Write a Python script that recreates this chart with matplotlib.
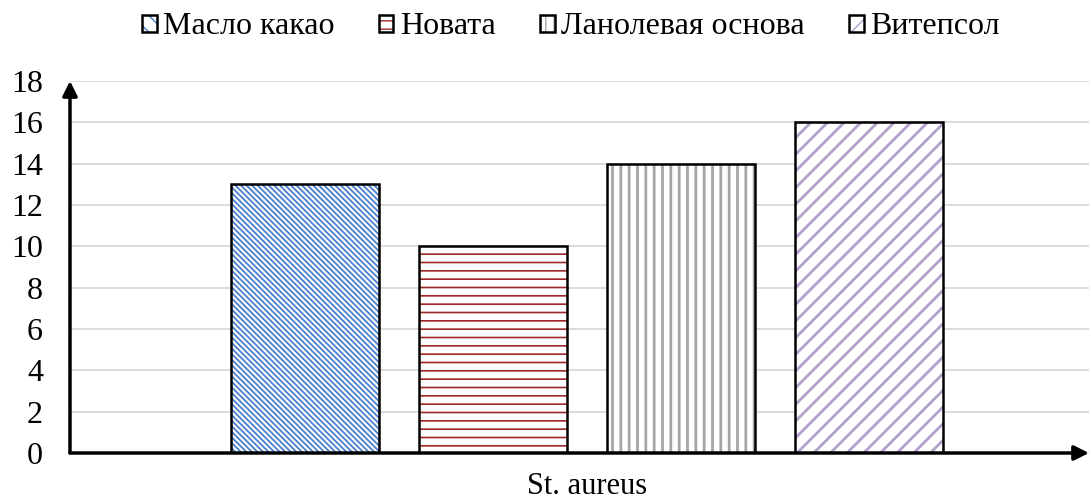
import matplotlib
matplotlib.use("Agg")
import matplotlib.pyplot as plt
from matplotlib.patches import Patch
from matplotlib.legend_handler import HandlerTuple

categories = ["St. aureus"]
series = ["Масло какао", "Новата", "Ланолевая основа", "Витепсол"]
values = [13, 10, 14, 16]
yticks = [0, 2, 4, 6, 8, 10, 12, 14, 16, 18]

hatch_colors = ["#4a7fcc", "#a02828", "#a5a5a5", "#b4a0cc"]
hatches = ["\\" * 6, "--", "||", "//"]
hatch_lws = [1.3, 1.2, 2.0, 2.0]

plt.rcParams['font.family'] = ['Liberation Serif', 'DejaVu Serif']

W, H = 1091, 499
fig = plt.figure(figsize=(W / 100, H / 100), dpi=100)
left, right, bottom, top = 70 / W, 1089 / W, 1 - 453 / H, 1 - 81 / H
ax = fig.add_axes([left, bottom, right - left, top - bottom])

positions = list(range(len(series)))
width = 0.79
for i, (v, hc, h, hl) in enumerate(zip(values, hatch_colors, hatches, hatch_lws)):
    with plt.rc_context({'hatch.linewidth': hl}):
        ax.bar(positions[i], v, width, color="white", edgecolor=hc, hatch=h,
               linewidth=0, zorder=2)
    ax.bar(positions[i], v, width, fill=False, edgecolor="black", linewidth=1.8, zorder=3)

ax.set_xlim(-1.25, 4.17)
ax.set_ylim(0, 18)
ax.set_yticks(yticks)
ax.set_yticklabels([str(t) for t in yticks], fontsize=23)
ax.tick_params(axis='y', length=0, pad=19.5)
ax.set_xticks([])
ax.grid(axis='y', color="#d9d9d9", linewidth=1.3, zorder=0)
ax.set_axisbelow(True)
for s in ax.spines.values():
    s.set_visible(False)

# axis arrows
ax.annotate("", xy=(0, 1.0), xytext=(0, 0), xycoords='axes fraction',
            arrowprops=dict(arrowstyle="-|>", color="black", lw=2.5,
                            mutation_scale=22, shrinkA=0, shrinkB=0), annotation_clip=False)
ax.annotate("", xy=(1.0, 0), xytext=(0, 0), xycoords='axes fraction',
            arrowprops=dict(arrowstyle="-|>", color="black", lw=2.5,
                            mutation_scale=22, shrinkA=0, shrinkB=0), annotation_clip=False)

ax.text(sum(positions) / len(positions), -(494 - 453) / (453 - 81), categories[0],
        transform=ax.get_xaxis_transform(), ha="center", va="baseline", fontsize=22)

handles = []
for hc, h in zip(hatch_colors, hatches):
    inner = Patch(facecolor="white", edgecolor=hc, hatch=h[:2], linewidth=0)
    outer = Patch(facecolor="none", edgecolor="black", linewidth=1.8)
    handles.append((inner, outer))
leg = fig.legend(handles, series, loc="center", bbox_to_anchor=(571 / W, 1 - 27 / H), ncol=4,
                 frameon=False, fontsize=23, handlelength=0.45, handleheight=0.45,
                 handletextpad=0.2, columnspacing=1.4, borderaxespad=0,
                 handler_map={tuple: HandlerTuple(ndivide=1, pad=0)})

fig.savefig("out.png", dpi=100)
